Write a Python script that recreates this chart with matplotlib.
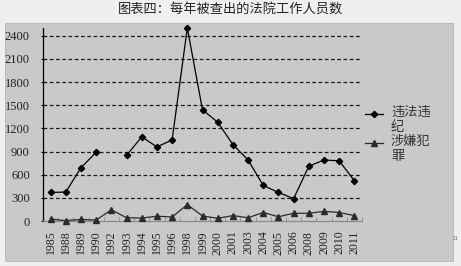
import numpy as np
import matplotlib
matplotlib.use("Agg")
import matplotlib.pyplot as plt
from matplotlib.patches import Rectangle
from matplotlib.lines import Line2D

plt.rcParams['font.family'] = ['Noto Sans CJK SC', 'DejaVu Sans']

years = ['1985', '1988', '1989', '1990', '1992', '1993', '1994', '1995', '1996',
         '1998', '1999', '2000', '2001', '2003', '2004', '2005', '2006', '2008',
         '2009', '2010', '2011']
# 违法违纪 (1992 missing)
weifa = [370, 375, 690, 890, np.nan, 850, 1090, 960, 1050,
         2500, 1440, 1280, 990, 790, 460, 370, 290, 710,
         790, 780, 520]
# 涉嫌犯罪
fanzui = [25, 5, 20, 12, 145, 42, 38, 62, 52,
          212, 65, 35, 70, 42, 110, 55, 100, 100,
          125, 110, 70]
yticks = [0, 300, 600, 900, 1200, 1500, 1800, 2100, 2400]
labels = ['违法违\n纪', '涉嫌犯\n罪']

W, H = 461, 266
fig = plt.figure(figsize=(W / 100, H / 100), dpi=100)
fig.patch.set_facecolor('#efefef')

# grey chart box
fig.patches.append(Rectangle((5 / W, 1 - 261 / H), 448 / W, 238 / H,
                             transform=fig.transFigure, facecolor='#c9c9c9',
                             edgecolor='#b5b5b5', lw=0.6, zorder=-5))

fig.text(230 / W, 1 - 10 / H, '图表四：每年被查出的法院工作人员数',
         ha='center', va='center', fontsize=9.5, color='#222222')

ax = fig.add_axes([43 / W, 45 / H, 319 / W, 193 / H])
ax.set_facecolor('none')

x = np.arange(len(years))
colors = ['black', '#2a2a2a']
markers = [('D', 3.2), ('^', 4)]
for vals, c, (m, ms) in zip([weifa, fanzui], colors, markers):
    ax.plot(x, vals, lw=0.9, color=c, marker=m, markersize=ms,
            clip_on=False, zorder=3)

ax.set_xlim(-0.5, len(years) - 0.5)
ax.set_ylim(0, 2500)
ax.set_yticks(yticks)
ax.set_yticklabels([str(v) for v in yticks], family='Liberation Serif',
                   fontsize=9, color='#222222')
ax.set_xticks(x)
ax.set_xticklabels(years, rotation=90, family='Liberation Serif',
                   fontsize=8.5, color='#222222')
ax.set_xticks(np.arange(-0.5, len(years)), minor=True)
ax.tick_params(axis='x', which='major', length=0, pad=7)
ax.tick_params(axis='x', which='minor', length=3, direction='in', color='#8a8a8a')
ax.tick_params(axis='y', length=3, direction='inout', pad=8)

for v in yticks[1:]:
    ax.axhline(v, color='#1a1a1a', lw=0.9, ls=(0, (3, 2)), zorder=1)

for s in ['top', 'right']:
    ax.spines[s].set_visible(False)
ax.spines['left'].set_color('black')
ax.spines['left'].set_linewidth(0.9)
ax.spines['bottom'].set_color('#8a8a8a')
ax.spines['bottom'].set_linewidth(0.9)

# legend drawn by hand: handle aligned with first text line
for i, (lab, c, (m, ms)) in enumerate(zip(labels, colors, markers)):
    yl = 1 - (114 + 29 * i) / H
    fig.add_artist(Line2D([365 / W, 383 / W], [yl, yl], color=c, lw=0.9,
                          transform=fig.transFigure))
    fig.add_artist(Line2D([374 / W], [yl], color=c, lw=0, marker=m,
                          markersize=ms, transform=fig.transFigure))
    fig.text(391 / W, yl + 8 / H, lab, ha='left', va='top',
             fontsize=9.5, color='#333333', linespacing=1.15)

fig.text(455 / W, 1 - 238 / H, '21', fontsize=4, ha='center', va='center',
         color='#555555', family='Liberation Serif')

fig.savefig('out.png', dpi=100, facecolor=fig.get_facecolor())
